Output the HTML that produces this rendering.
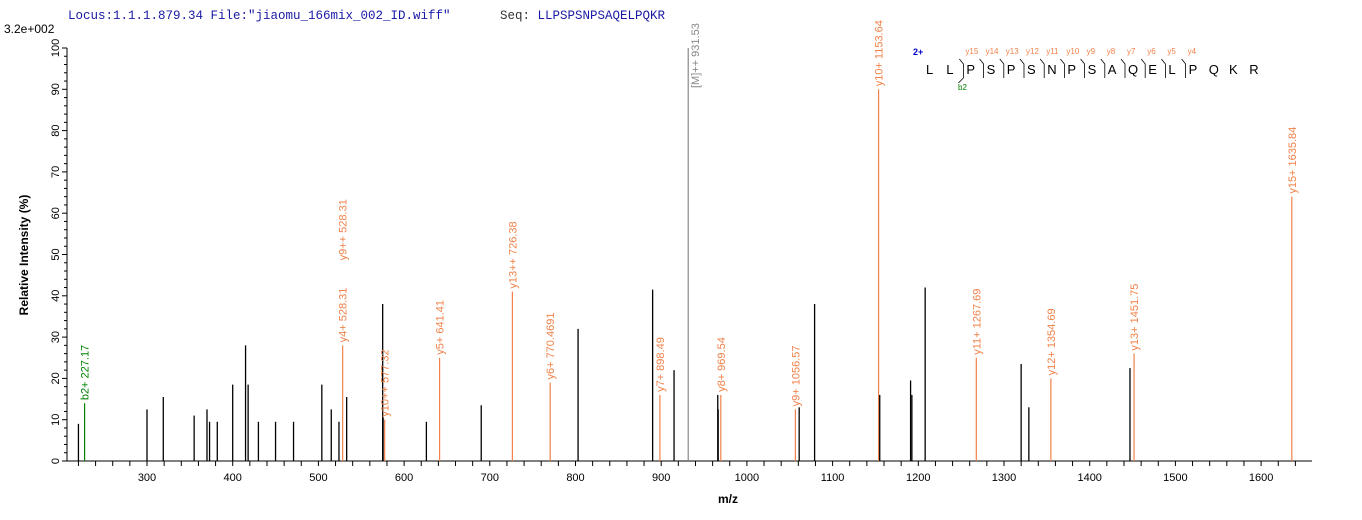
<!DOCTYPE html>
<html><head><meta charset="utf-8"><style>
html,body{margin:0;padding:0;background:#fff;width:1362px;height:520px;overflow:hidden}
svg text{font-family:"Liberation Sans",Arial,sans-serif}
</style></head><body>
<svg id="s" width="1362" height="520" xmlns="http://www.w3.org/2000/svg">
<text x="68" y="19" style="font-family:'Liberation Mono',monospace" font-size="12.5" fill="#1a1aa6">Locus:1.1.1.879.34 File:"jiaomu_166mix_002_ID.wiff"</text>
<text x="500" y="19" style="font-family:'Liberation Mono',monospace" font-size="12.5" fill="#1a1aa6"><tspan fill="#333">Seq:</tspan> LLPSPSNPSAQELPQKR</text>
<text x="4" y="33" font-size="12" fill="#000">3.2e+002</text>
<text transform="translate(28,255) rotate(-90)" text-anchor="middle" font-size="12" font-weight="bold">Relative   Intensity (%)</text>
<text x="728" y="503" text-anchor="middle" font-size="12" font-weight="bold">m/z</text>
<text x="913" y="55" font-size="9" font-weight="bold" fill="#0000cc">2+</text>
</svg>
<script>
var s=document.getElementById('s'),NS='http://www.w3.org/2000/svg';
function el(t,a,txt){var e=document.createElementNS(NS,t);for(var k in a)e.setAttribute(k,a[k]);if(txt!=null)e.textContent=txt;s.appendChild(e);return e;}
var X0=67,Y0=461,XE=1312;
function fx(m){return 147+(m-300)*0.857}
function fy(h){return Y0-h*4.13}
el('line',{x1:X0,y1:Y0,x2:XE,y2:Y0,stroke:'#000'});
el('line',{x1:X0,y1:Y0,x2:X0,y2:fy(100),stroke:'#000'});
for(var v=0;v<=100;v+=2){var y=fy(v);el('line',{x1:X0-(v%10==0?5:3),y1:y,x2:X0,y2:y,stroke:'#000'});
 if(v%10==0){el('text',{transform:'translate('+(X0-8)+','+y+') rotate(-90)','text-anchor':'middle','font-size':'11'},v);}}
for(var m=220;m<=1640;m+=20){var x=fx(m);if(x>XE)break;el('line',{x1:x,y1:Y0,x2:x,y2:Y0+5,stroke:'#000'});
 if(m%100==0)el('text',{x:x,y:Y0+20,'text-anchor':'middle','font-size':'11'},m);}
var O='#f0824a',G='#008000',K='#000';
var P=[[220,9,K],[227.17,14,G,'b2+ 227.17'],[300,12.5,K],[319,15.5,K],[355,11,K],[370,12.5,K],[373,9.5,K],[382,9.5,K],[400,18.5,K],[415,28,K],[418,18.5,K],[430,9.5,K],[450,9.5,K],[471,9.5,K],[504,18.5,K],[515,12.5,K],[524,9.5,K],[528.31,28,O,'y4+ 528.31'],[533,15.5,K],[575,38,K],[575.5,10.5,K],[577.32,10,O,'y10++ 577.32'],[626,9.5,K],[641.41,25,O,'y5+ 641.41'],[690,13.5,K],[726.38,41,O,'y13++ 726.38'],[770.47,19,O,'y6+ 770.4691'],[803,32,K],[890,41.5,K],[898.49,16,O,'y7+ 898.49'],[915,22,K],[931.53,100,'#888'],[966,16,K],[966.5,12.5,K],[969.54,16,O,'y8+ 969.54'],[1056.57,12.5,O,'y9+ 1056.57'],[1061,13,K],[1079,38,K],[1153.64,90,O,'y10+ 1153.64'],[1155,16,K],[1191,19.5,K],[1192.5,16,K],[1208,42,K],[1267.69,25,O,'y11+ 1267.69'],[1320,23.5,K],[1329,13,K],[1354.69,20,O,'y12+ 1354.69'],[1447,22.5,K],[1451.75,26,O,'y13+ 1451.75'],[1635.84,64,O,'y15+ 1635.84']];
P.forEach(function(p){var x=fx(p[0]),y=fy(p[1]);el('line',{x1:x,y1:Y0,x2:x,y2:y,stroke:p[2],'stroke-width':p[2]==K?1.3:1.2});
 if(p[3])el('text',{transform:'translate('+(x+4)+','+(y-3)+') rotate(-90)','font-size':'11',fill:p[2]},p[3]);});
el('text',{transform:'translate('+(fx(931.53)+11)+',88) rotate(-90)','font-size':'11',fill:'#888'},'[M]++ 931.53');
el('text',{transform:'translate('+(fx(528.31)+4)+','+(fy(28)-85)+') rotate(-90)','font-size':'11',fill:O},'y9++ 528.31');
var seq='LLPSPSNPSAQELPQKR'.split('');
seq.forEach(function(c,i){el('text',{x:926+i*20.2,y:74,'font-size':'13'},c);});
for(var i=2;i<=13;i++){var bx=926+i*20.2-3;el('polyline',{points:(bx-4)+',59 '+bx+',64 '+bx+',78',fill:'none',stroke:'#000','stroke-width':'0.8'});
 el('text',{x:bx+2,y:54,'font-size':'8',fill:O},'y'+(17-i));}
var bx=926+2*20.2-3;el('line',{x1:bx,y1:78,x2:bx-5,y2:83,stroke:'#000','stroke-width':'0.8'});
el('text',{x:958,y:90,'font-size':'8',fill:G},'b2');
</script>
</body></html>
